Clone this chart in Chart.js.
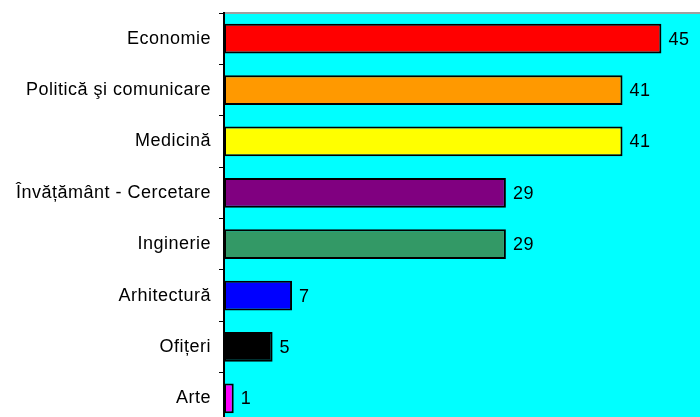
<!DOCTYPE html>
<html><head><meta charset="utf-8">
<script src="https://cdn.jsdelivr.net/npm/chart.js@4/dist/chart.umd.min.js"></script>
<style>
html,body{margin:0;padding:0;background:#fff;overflow:hidden;width:700px;height:417px}
#wrap{position:absolute;left:0;top:0;width:710px;height:424px}
</style></head><body>
<div id="wrap"><canvas id="c"></canvas></div>
<script>
const categories = ["Economie","Politică şi comunicare","Medicină","Învățământ - Cercetare","Inginerie","Arhitectură","Ofițeri","Arte"];
const values = [45,41,41,29,29,7,5,1];
const barColors = ["#FF0000","#FF9900","#FFFF00","#800080","#339966","#0000FF","#000000","#FF00FF"];

const FONT = '"Liberation Sans", Arial, sans-serif';
const LS = '0.5px';
const spacingPlugin = {
  id:'spacing',
  beforeLayout(chart){ chart.ctx.letterSpacing=LS; },
  beforeDraw(chart){ chart.ctx.letterSpacing=LS; }
};
const bgPlugin = {
  id:'bg',
  beforeDraw(chart){
    const {ctx, chartArea:a} = chart;
    ctx.save();
    ctx.fillStyle='#00FFFF';
    ctx.fillRect(a.left,a.top,a.right-a.left,a.bottom-a.top);
    ctx.strokeStyle='#A0A0A0';
    ctx.lineWidth=2;
    ctx.beginPath();ctx.moveTo(a.left,a.top);ctx.lineTo(a.right,a.top);ctx.stroke();
    ctx.restore();
  }
};
const labelPlugin = {
  id:'vals',
  afterDatasetsDraw(chart){
    const {ctx} = chart;
    const meta = chart.getDatasetMeta(0);
    ctx.save();
    ctx.letterSpacing=LS;
    ctx.fillStyle='#000';
    ctx.font='18px ' + FONT;
    ctx.textBaseline='middle';
    ctx.textAlign='left';
    meta.data.forEach((el,i)=>{
      ctx.fillText(String(values[i]), el.x+7, el.y+1);
    });
    ctx.restore();
  }
};

new Chart(document.getElementById('c'),{
  type:'bar',
  data:{labels:categories,datasets:[{data:values,backgroundColor:barColors,borderColor:'#000',borderWidth:2,borderSkipped:false,barPercentage:0.58,categoryPercentage:1}]},
  options:{
    indexAxis:'y',
    responsive:true,maintainAspectRatio:false,animation:false,
    layout:{padding:{left:0,top:13,right:0,bottom:0}},
    plugins:{legend:{display:false},tooltip:{enabled:false}},
    scales:{
      x:{display:false,min:0,max:50},
      y:{
        offset:true,
        grid:{offset:true,drawOnChartArea:false,color:'#000',tickLength:5,lineWidth:1},
        border:{display:true,color:'#000',width:2},
        afterFit(s){s.width=224;s.paddingTop=0;s.paddingBottom=0;},
        ticks:{color:'#000',padding:8,font:{family:FONT,size:18}}
      }
    }
  },
  plugins:[spacingPlugin,bgPlugin,labelPlugin]
});
</script>
</body></html>
